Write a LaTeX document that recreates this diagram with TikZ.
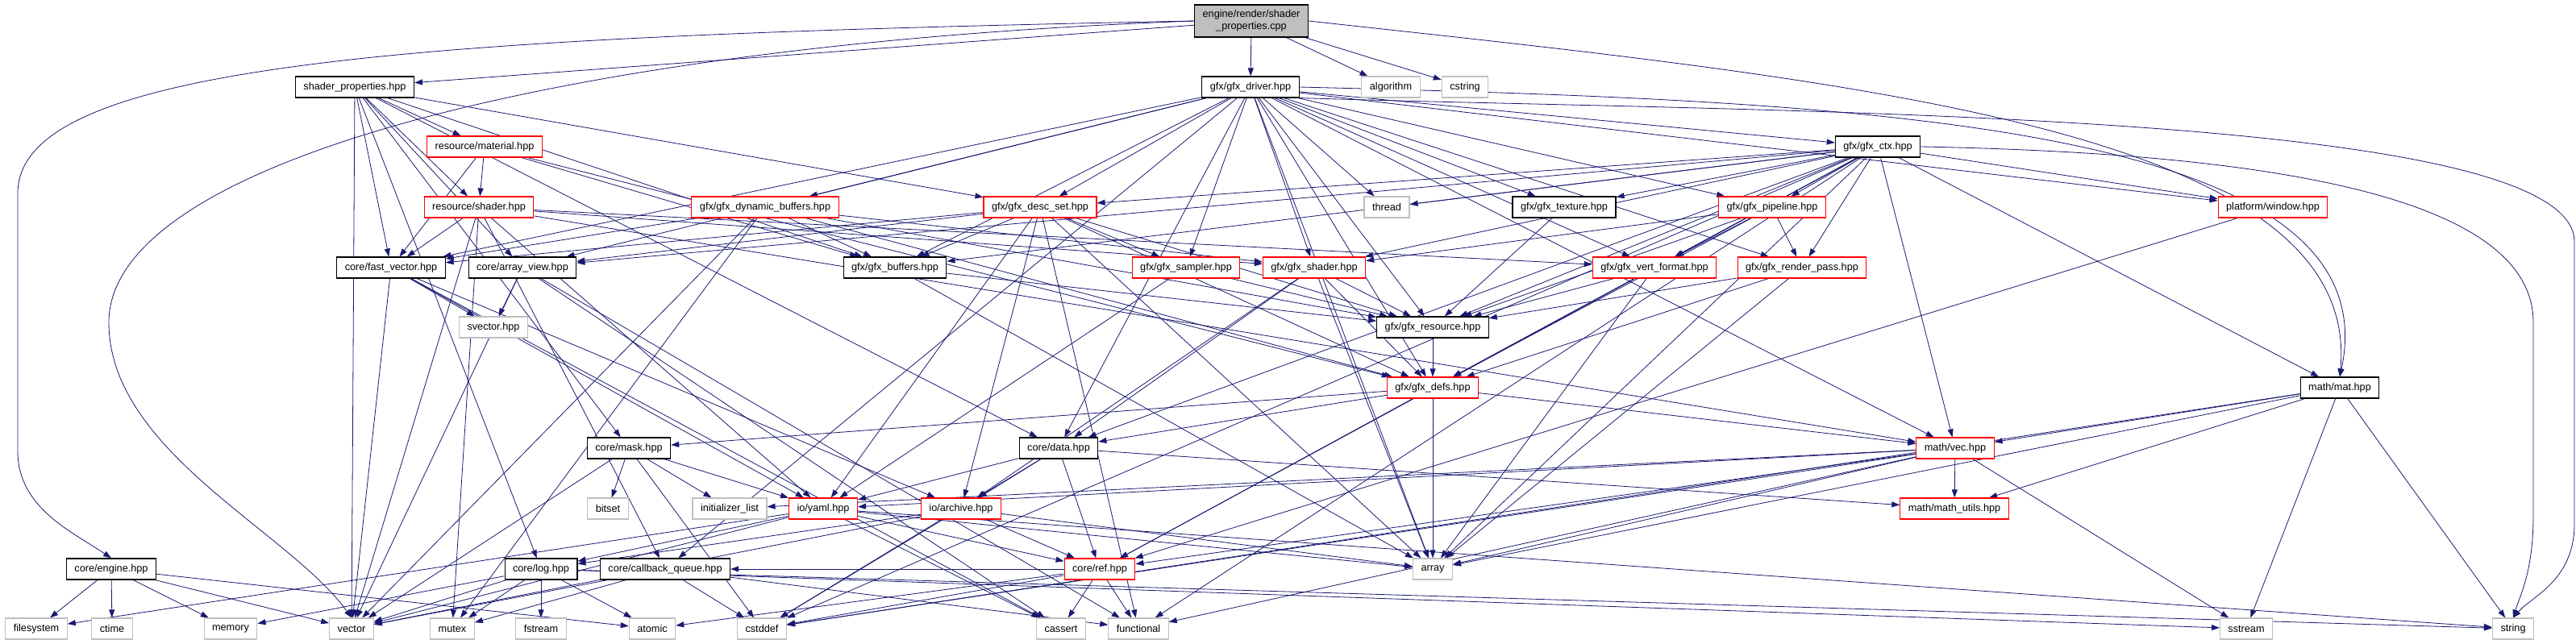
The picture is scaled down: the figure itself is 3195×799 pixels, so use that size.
\documentclass[tikz,border=0pt]{standalone}
\usepackage{fontspec}
\setmainfont{Liberation Sans}
\usetikzlibrary{arrows.meta,backgrounds}
\definecolor{edgeblue}{HTML}{191970}
\definecolor{extgray}{HTML}{BFBFBF}

\begin{document}
\begin{tikzpicture}[
  x=1pt, y=-1pt,
  every node/.style={font=\fontsize{12.7}{15}\selectfont, inner xsep=10pt, inner ysep=0pt, minimum height=26pt, fill=white},
  hdr/.style={draw=black, line width=1.1pt},
  redhdr/.style={draw=red, line width=1.1pt},
  sys/.style={draw=extgray, line width=1.1pt},
  srcfile/.style={draw=black, line width=1.1pt, fill=extgray, align=center, minimum height=40pt},
  arrow/.style={-{Triangle[length=10pt,width=7pt]}, draw=edgeblue, line width=0.8pt}
]
\useasboundingbox (0,0) rectangle (3195,799);

% rows of the include graph
\node[srcfile] (cpp) at (1552,26) {engine/render/shader\\\_properties.cpp};

\node[hdr] (shp) at (440,108) {shader\_properties.hpp};
\node[hdr] (drv) at (1551,108) {gfx/gfx\_driver.hpp};
\node[sys] (algo) at (1725,108) {algorithm};
\node[sys] (cstr) at (1817,108) {cstring};

\node[redhdr] (material) at (601,182) {resource/material.hpp};
\node[hdr] (ctx) at (2329,182) {gfx/gfx\_ctx.hpp};

\node[redhdr] (rshader) at (594,257) {resource/shader.hpp};
\node[redhdr] (dynbuf) at (949,257) {gfx/gfx\_dynamic\_buffers.hpp};
\node[redhdr] (descset) at (1290,257) {gfx/gfx\_desc\_set.hpp};
\node[sys] (thread) at (1720,257) {thread};
\node[hdr] (texture) at (1940,257) {gfx/gfx\_texture.hpp};
\node[redhdr] (pipeline) at (2198,257) {gfx/gfx\_pipeline.hpp};
\node[redhdr] (window) at (2819,257) {platform/window.hpp};

\node[hdr] (fastvec) at (485,332) {core/fast\_vector.hpp};
\node[hdr] (arrview) at (648,332) {core/array\_view.hpp};
\node[hdr] (gbuffers) at (1110,332) {gfx/gfx\_buffers.hpp};
\node[redhdr] (sampler) at (1471,332) {gfx/gfx\_sampler.hpp};
\node[redhdr] (gshader) at (1630,332) {gfx/gfx\_shader.hpp};
\node[redhdr] (vertfmt) at (2052,332) {gfx/gfx\_vert\_format.hpp};
\node[redhdr] (rpass) at (2235,332) {gfx/gfx\_render\_pass.hpp};

\node[sys] (svector) at (612,406) {svector.hpp};
\node[hdr] (resource) at (1777,406) {gfx/gfx\_resource.hpp};

\node[redhdr] (gdefs) at (1777,481) {gfx/gfx\_defs.hpp};
\node[hdr] (mat) at (2902,481) {math/mat.hpp};

\node[hdr] (mask) at (780,556) {core/mask.hpp};
\node[hdr] (data) at (1313,556) {core/data.hpp};
\node[redhdr] (vec) at (2425,556) {math/vec.hpp};

\node[sys] (bitset) at (754,631) {bitset};
\node[sys] (initlist) at (905,631) {initializer\_list};
\node[redhdr] (yaml) at (1021,631) {io/yaml.hpp};
\node[redhdr] (archive) at (1192,631) {io/archive.hpp};
\node[redhdr] (mutils) at (2424,631) {math/math\_utils.hpp};

\node[hdr] (engine) at (138,706) {core/engine.hpp};
\node[hdr] (log) at (671,706) {core/log.hpp};
\node[hdr] (cbq) at (825,706) {core/callback\_queue.hpp};
\node[redhdr] (ref) at (1364,706) {core/ref.hpp};
\node[sys] (array) at (1777,706) {array};

\node[sys] (filesystem) at (45,780) {filesystem};
\node[sys] (ctime) at (139,780) {ctime};
\node[sys] (memory) at (286,780) {memory};
\node[sys] (vector) at (436,780) {vector};
\node[sys] (mutex) at (561,780) {mutex};
\node[sys] (fstream) at (671,780) {fstream};
\node[sys] (atomic) at (809,780) {atomic};
\node[sys] (cstddef) at (945,780) {cstddef};
\node[sys] (cassert) at (1316,780) {cassert};
\node[sys] (functional) at (1412,780) {functional};
\node[sys] (sstream) at (2786,780) {sstream};
\node[sys] (string) at (3117,780) {string};

\begin{scope}[on background layer]
% source file
\draw[arrow] (cpp) -- (shp);
\draw[arrow] (cpp) -- (drv);
\draw[arrow] (cpp) -- (algo);
\draw[arrow] (cpp) -- (cstr);
\draw[arrow] (cpp.west) .. controls (500,45) and (22,80) .. (22,240) -- (22,560) .. controls (22,630) and (90,660) .. (engine.north);
\draw[arrow] (cpp.west) .. controls (700,55) and (135,200) .. (135,400) .. controls (135,560) and (360,660) .. (vector.north);
\draw[arrow] (cpp.east) .. controls (2300,100) and (2930,160) .. (mat.north);
% shader_properties.hpp
\draw[arrow] (shp) -- (material);
\draw[arrow] (shp) -- (rshader);
\draw[arrow] (shp) -- (fastvec);
\draw[arrow] (shp) -- (arrview);
\draw[arrow] (shp) -- (gbuffers);
\draw[arrow] (shp) -- (descset);
\draw[arrow] (shp) -- (mask);
\draw[arrow] (shp) -- (data);
\draw[arrow] (shp) -- (log);
\draw[arrow] (shp) -- (vector);
% resource headers
\draw[arrow] (material) -- (rshader);
\draw[arrow] (material) -- (fastvec);
\draw[arrow] (material) -- (gbuffers);
\draw[arrow] (material) -- (gdefs);
\draw[arrow] (rshader) -- (fastvec);
\draw[arrow] (rshader) -- (gshader);
\draw[arrow] (rshader) -- (vertfmt);
\draw[arrow] (rshader) -- (vec);
\draw[arrow] (rshader) -- (yaml);
\draw[arrow] (rshader) -- (cbq);
\draw[arrow] (rshader) -- (vector);
\draw[arrow] (rshader) -- (mutex);
% gfx driver
\draw[arrow] (drv) -- (dynbuf);
\draw[arrow] (drv) -- (descset);
\draw[arrow] (drv) -- (gbuffers);
\draw[arrow] (drv) -- (sampler);
\draw[arrow] (drv) -- (gshader);
\draw[arrow] (drv) -- (thread);
\draw[arrow] (drv) -- (texture);
\draw[arrow] (drv) -- (pipeline);
\draw[arrow] (drv) -- (vertfmt);
\draw[arrow] (drv) -- (rpass);
\draw[arrow] (drv) -- (resource);
\draw[arrow] (drv) -- (gdefs);
\draw[arrow] (drv) -- (ctx);
\draw[arrow] (drv) -- (window);
\draw[arrow] (drv) -- (arrview);
\draw[arrow] (drv) -- (fastvec);
\draw[arrow] (drv) -- (data);
\draw[arrow] (drv) -- (cbq);
\draw[arrow] (drv) -- (vec);
\draw[arrow] (drv) -- (array);
\draw[arrow] (drv.east) .. controls (2300,125) and (2970,150) .. (mat.north);
\draw[arrow] (drv.south east) .. controls (2200,140) and (3193,135) .. (3193,300) -- (3193,650) .. controls (3193,720) and (3140,740) .. (string.north);
% gfx ctx
\draw[arrow] (ctx) -- (descset);
\draw[arrow] (ctx) -- (gbuffers);
\draw[arrow] (ctx) -- (gshader);
\draw[arrow] (ctx) -- (thread);
\draw[arrow] (ctx) -- (texture);
\draw[arrow] (ctx) -- (pipeline);
\draw[arrow] (ctx) -- (vertfmt);
\draw[arrow] (ctx) -- (rpass);
\draw[arrow] (ctx) -- (resource);
\draw[arrow] (ctx) -- (gdefs);
\draw[arrow] (ctx) -- (window);
\draw[arrow] (ctx) -- (mat);
\draw[arrow] (ctx) -- (vec);
\draw[arrow] (ctx) -- (array);
\draw[arrow] (ctx) -- (arrview);
\draw[arrow] (ctx) -- (data);
\draw[arrow] (ctx) -- (ref);
\draw[arrow] (ctx) -- (functional);
\draw[arrow] (ctx) -- (cstddef);
\draw[arrow] (ctx.east) .. controls (2800,190) and (3142,240) .. (3142,400) -- (3142,640) .. controls (3142,710) and (3125,740) .. (string.north);
% gfx objects
\draw[arrow] (dynbuf) -- (gbuffers);
\draw[arrow] (dynbuf) -- (resource);
\draw[arrow] (dynbuf) -- (gdefs);
\draw[arrow] (dynbuf) -- (fastvec);
\draw[arrow] (dynbuf) -- (gshader);
\draw[arrow] (dynbuf) -- (vector);
\draw[arrow] (dynbuf) -- (mutex);
\draw[arrow] (descset) -- (gbuffers);
\draw[arrow] (descset) -- (sampler);
\draw[arrow] (descset) -- (resource);
\draw[arrow] (descset) -- (gdefs);
\draw[arrow] (descset) -- (fastvec);
\draw[arrow] (descset) -- (arrview);
\draw[arrow] (descset) -- (archive);
\draw[arrow] (descset) -- (yaml);
\draw[arrow] (descset) -- (array);
\draw[arrow] (descset) -- (functional);
\draw[arrow] (gbuffers) -- (resource);
\draw[arrow] (gbuffers) -- (array);
\draw[arrow] (sampler) -- (resource);
\draw[arrow] (sampler) -- (yaml);
\draw[arrow] (gshader) -- (resource);
\draw[arrow] (gshader) -- (gdefs);
\draw[arrow] (gshader) -- (array);
\draw[arrow] (gshader) -- (data);
\draw[arrow] (gshader) -- (archive);
\draw[arrow] (texture) -- (resource);
\draw[arrow] (pipeline) -- (vertfmt);
\draw[arrow] (pipeline) -- (rpass);
\draw[arrow] (pipeline) -- (resource);
\draw[arrow] (pipeline) -- (gdefs);
\draw[arrow] (pipeline) -- (gshader);
\draw[arrow] (vertfmt) -- (resource);
\draw[arrow] (vertfmt) -- (gdefs);
\draw[arrow] (vertfmt) -- (array);
\draw[arrow] (rpass) -- (resource);
\draw[arrow] (rpass) -- (gdefs);
\draw[arrow] (rpass) -- (array);
\draw[arrow] (resource) -- (gdefs);
\draw[arrow] (gdefs) -- (vec);
\draw[arrow] (gdefs) -- (data);
\draw[arrow] (gdefs) -- (mask);
\draw[arrow] (gdefs) -- (array);
\draw[arrow] (gdefs) -- (ref);
\draw[arrow] (window) -- (ref);
% core
\draw[arrow] (fastvec) -- (svector);
\draw[arrow] (fastvec) -- (vector);
\draw[arrow] (fastvec) -- (yaml);
\draw[arrow] (fastvec) -- (archive);
\draw[arrow] (fastvec) -- (cassert);
\draw[arrow] (arrview) -- (svector);
\draw[arrow] (arrview) -- (vector);
\draw[arrow] (arrview) -- (cassert);
\draw[arrow] (arrview) -- (functional);
\draw[arrow] (mask) -- (bitset);
\draw[arrow] (mask) -- (initlist);
\draw[arrow] (mask) -- (yaml);
\draw[arrow] (mask) -- (vector);
\draw[arrow] (mask) -- (cstddef);
\draw[arrow] (data) -- (yaml);
\draw[arrow] (data) -- (archive);
\draw[arrow] (data) -- (ref);
\draw[arrow] (data) -- (cstddef);
\draw[arrow] (data) -- (mutils);
% math
\draw[arrow] (vec) -- (mutils);
\draw[arrow] (vec) -- (array);
\draw[arrow] (vec) -- (sstream);
\draw[arrow] (vec) -- (initlist);
\draw[arrow] (vec) -- (yaml);
\draw[arrow] (vec) -- (ref);
\draw[arrow] (vec) -- (cstddef);
\draw[arrow] (vec) -- (functional);
\draw[arrow] (mat) -- (vec);
\draw[arrow] (mat) -- (mutils);
\draw[arrow] (mat) -- (array);
\draw[arrow] (mat) -- (sstream);
\draw[arrow] (mat) -- (string);
\draw[arrow] (mat) -- (cstddef);
% io
\draw[arrow] (yaml) -- (log);
\draw[arrow] (yaml) -- (ref);
\draw[arrow] (yaml) -- (vector);
\draw[arrow] (yaml) -- (filesystem);
\draw[arrow] (yaml) -- (cassert);
\draw[arrow] (yaml) -- (string);
\draw[arrow] (yaml) -- (array);
\draw[arrow] (archive) -- (ref);
\draw[arrow] (archive) -- (log);
\draw[arrow] (archive) -- (vector);
\draw[arrow] (archive) -- (cstddef);
\draw[arrow] (archive) -- (array);
% bottom row
\draw[arrow] (ref) -- (atomic);
\draw[arrow] (ref) -- (cassert);
\draw[arrow] (ref) -- (functional);
\draw[arrow] (ref) -- (cbq);
\draw[arrow] (ref) -- (cstddef);
\draw[arrow] (log) -- (memory);
\draw[arrow] (log) -- (vector);
\draw[arrow] (log) -- (mutex);
\draw[arrow] (log) -- (fstream);
\draw[arrow] (log) -- (sstream);
\draw[arrow] (log) -- (string);
\draw[arrow] (log) -- (atomic);
\draw[arrow] (cbq) -- (vector);
\draw[arrow] (cbq) -- (mutex);
\draw[arrow] (cbq) -- (cstddef);
\draw[arrow] (cbq) -- (functional);
\draw[arrow] (engine) -- (filesystem);
\draw[arrow] (engine) -- (ctime);
\draw[arrow] (engine) -- (memory);
\draw[arrow] (engine) -- (vector);
\draw[arrow] (engine) -- (atomic);
\end{scope}
\end{tikzpicture}
\end{document}
